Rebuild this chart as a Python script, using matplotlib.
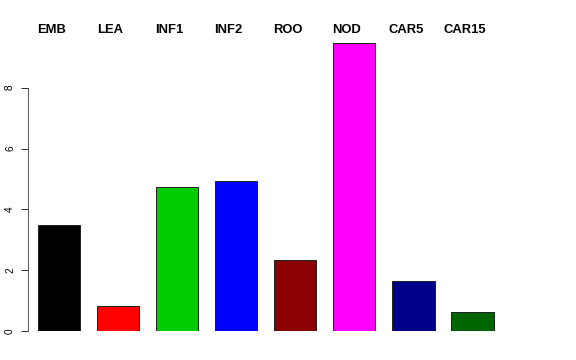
import matplotlib
matplotlib.use("Agg")
import matplotlib.pyplot as plt
import numpy as np

# tissue categories and values
labels = ["EMB", "LEA", "INF1", "INF2", "ROO", "NOD", "CAR5", "CAR15"]
values = [3.48, 0.82, 4.73, 4.93, 2.35, 9.47, 1.65, 0.62]
colors = ["#000000", "#FF0000", "#00CD00", "#0000FF", "#8B0000", "#FF00FF", "#00008B", "#006400"]
yticks = [0, 2, 4, 6, 8]

W, H = 576, 360
fig = plt.figure(figsize=(W / 72, H / 72), dpi=72)
plt.rcParams["font.family"] = ["Liberation Sans", "DejaVu Sans"]

# axes placed in pixel units: left edge = y axis, bottom = 0, top = NOD bar top
left, right, bottom, top = 28, 540, 331, 43
ax = fig.add_axes([left / W, (H - bottom) / H, (right - left) / W, (bottom - top) / H])

# R barplot style positions: width 1, space 0.4
x = 0.9 + 1.4 * np.arange(len(values))
ax.bar(x, values, width=1.0, color=colors, edgecolor="#222222", linewidth=1)

ax.set_xlim(0.166, 12.3)
ax.set_ylim(0, max(values))

for s in ["top", "right", "bottom"]:
    ax.spines[s].set_visible(False)
ax.spines["left"].set_bounds(0, 8)
ax.spines["left"].set_color("#333333")
ax.set_xticks([])
ax.set_yticks(yticks)
ax.set_yticklabels([str(t) for t in yticks], rotation=90, va="center", fontsize=10)
ax.tick_params(axis="y", length=7, width=1, color="#333333", pad=6)

# labels sit ~30 px below the top of the image
trans = matplotlib.transforms.blended_transform_factory(ax.transData, fig.transFigure)
for xi, lab in zip(x, labels):
    ax.text(xi - 0.18, (H - 30) / H, lab, transform=trans,
            ha="center", va="center", fontsize=13, fontweight="bold")

fig.savefig("out.png", dpi=72)
